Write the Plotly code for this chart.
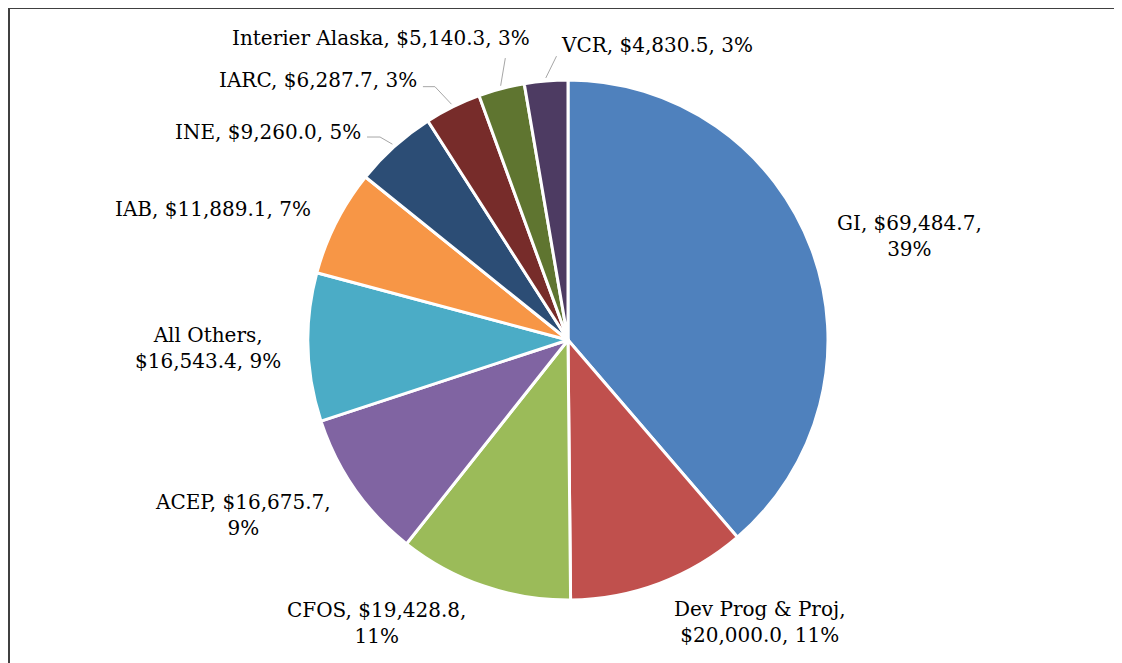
import math
import plotly.graph_objects as go

# ---- data ----
categories = ["GI", "Dev Prog & Proj", "CFOS", "ACEP", "All Others", "IAB",
              "INE", "IARC", "Interier Alaska", "VCR"]
values = [69484.7, 20000.0, 19428.8, 16675.7, 16543.4, 11889.1,
          9260.0, 6287.7, 5140.3, 4830.5]
percent_labels = ["39%", "11%", "11%", "9%", "9%", "7%", "5%", "3%", "3%", "3%"]
colors = ["#4F81BD", "#C0504D", "#9BBB59", "#8064A2", "#4BACC6", "#F79646",
          "#2C4D75", "#772C2A", "#5F7530", "#4D3B62"]
# label text line breaks (number of parts before the break)
label_break = {"GI": 2, "Dev Prog & Proj": 1, "CFOS": 2, "ACEP": 2, "All Others": 1}

# ---- geometry (pixels, page coordinates) ----
OFF = 8  # page body margin
W, H = 1122 - OFF, 663 - OFF
CX, CY, R = 568, 340, 260
FONT = "DejaVu Serif"
FS = 20

# label placement: (radius in px, angle shift deg, xanchor)
label_geom = {
    "GI": (287, -1, "left"),
    "Dev Prog & Proj": (301, 0.4, "left"),
    "CFOS": (300, 0.6, "right"),
    "ACEP": (293, -1.8, "right"),
    "All Others": (285, 0, "right"),
    "IAB": (287, 0.3, "right"),
    "INE": (292, -2.7, "right"),
    "IARC": (300, -3.5, "right"),
    "Interier Alaska": (304, 8.1, "right"),
    "VCR": (295, 3.0, "left"),
}
# leader lines: offsets (px) relative to label anchor point
leaders = {
    "INE": [(4, 5), (17, 5)],
    "IARC": [(4, 7), (16, 7)],
    "Interier Alaska": [(-27, 20)],
    "VCR": [(-2, 11)],
}

def px(x):
    return (x - OFF) / W

def py(y):
    return 1 - (y - OFF) / H

total = sum(values)
fig = go.Figure()
fig.add_trace(go.Pie(
    labels=categories, values=values, sort=False, direction="clockwise",
    rotation=0, textinfo="none", hoverinfo="label+value+percent",
    marker=dict(colors=colors, line=dict(color="white", width=3)),
    domain=dict(x=[px(CX - R), px(CX + R)], y=[py(CY + R), py(CY - R)]),
    showlegend=False,
))

annotations = []
shapes = []
cum = 0.0
for cat, v, pct in zip(categories, values, percent_labels):
    frac = v / total
    mid = (cum + frac / 2) * 360
    cum += frac
    d, shift, xa = label_geom[cat]
    a = math.radians(mid + shift)
    lx = CX + d * math.sin(a)
    ly = CY - d * math.cos(a)
    parts = [cat, f"${v:,.1f}", pct]
    brk = label_break.get(cat)
    if brk is None:
        text = ", ".join(parts)
    else:
        text = ", ".join(parts[:brk]) + ",<br>" + ", ".join(parts[brk:])
    annotations.append(dict(
        x=px(lx), y=py(ly), xref="paper", yref="paper", text=text,
        showarrow=False, xanchor=xa, yanchor="middle", align="center",
        font=dict(family=FONT, size=FS, color="#000000"),
    ))
    if cat in leaders:
        am = math.radians(mid)
        pts = [(CX + (R + 3) * math.sin(am), CY - (R + 3) * math.cos(am))]
        for ox, oy in reversed(leaders[cat]):
            pts.append((lx + ox, ly + oy))
        path = "M " + " L ".join(f"{px(x):.5f},{py(y):.5f}" for x, y in pts)
        shapes.append(dict(type="path", xref="paper", yref="paper", path=path,
                           line=dict(color="#A6A6A6", width=1)))

# frame around chart area (right and bottom edges lie outside the view)
shapes.append(dict(type="rect", xref="paper", yref="paper",
                   x0=px(9), x1=px(1160), y0=py(720), y1=py(8),
                   line=dict(color="#404040", width=2)))

fig.update_layout(
    width=W, height=H, margin=dict(l=0, r=0, t=0, b=0),
    paper_bgcolor="white", plot_bgcolor="white",
    annotations=annotations, shapes=shapes,
)
fig.write_html("out.html")
